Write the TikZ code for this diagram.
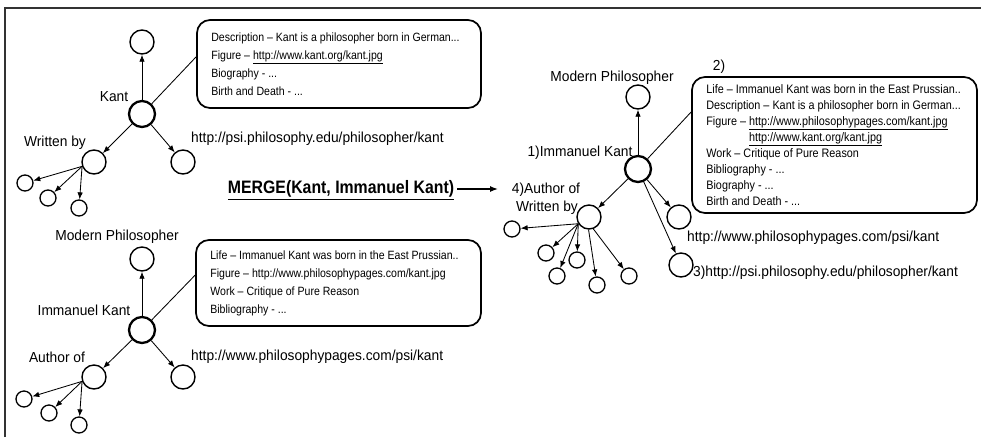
\documentclass[tikz,border=0pt]{standalone}
\usepackage{fontspec}
\setmainfont{Liberation Sans}
\newfontfamily\labelfont[FakeStretch=0.95]{Liberation Sans}
\newfontfamily\narrowfont[FakeStretch=0.88]{Liberation Sans}
\newfontfamily\mergefont[FakeStretch=0.88]{Liberation Sans}
\usetikzlibrary{arrows.meta,calc}
\begin{document}
\begin{tikzpicture}[x=1pt,y=-1pt,
  vtx/.style={circle,draw,line width=1.4pt,minimum size=24pt,inner sep=0pt},
  mainvtx/.style={circle,draw,line width=2.3pt,minimum size=26pt,inner sep=0pt},
  smallvtx/.style={circle,draw,line width=1.3pt,minimum size=16pt,inner sep=0pt},
  lbl/.style={font=\labelfont\fontsize{14.5}{17}\selectfont,inner sep=0pt},
  infobox/.style={draw,line width=1.7pt,rounded corners=13pt,inner sep=0pt},
  infotext/.style={font=\narrowfont\fontsize{12}{18}\selectfont,align=left,inner sep=0pt,anchor=west},
  arr/.style={-{Latex[length=7pt,width=5.5pt]},line width=0.85pt},
  link/.style={line width=0.85pt}]
\useasboundingbox (0,0) rectangle (981,437);
% frame
\coordinate (fa) at (5,437);
\coordinate (fb) at (5,8);
\coordinate (fc) at (981,8);
\draw[line width=1.1pt,black!80] (fa) -- (fb) -- (fc);

% ---------- top-left graph ----------
\node[vtx] (tk) at (142,42) {};
\node[mainvtx] (k) at (142,114) {};
\node[lbl] (kl) at (114,97) {Kant};
\node[vtx] (wb) at (94,162) {};
\node[vtx] (ku) at (183,162) {};
\node[lbl] (wbl) at (55,143) {Written by};
\node[lbl,anchor=west] (kul) at (191,139) {http://psi.philosophy.edu/philosopher/kant};
\node[smallvtx] (ks1) at (25,183) {};
\node[smallvtx] (ks2) at (48,198) {};
\node[smallvtx] (ks3) at (79,208) {};
\node[infobox,minimum width=284pt,minimum height=88pt] (kb) at (339,64) {};
\node[infotext] (kt) at ($(kb.west)+(15,0)$) {Description – Kant is a philosopher born in German...\\Figure – \underline{http://www.kant.org/kant.jpg}\\Biography - ...\\Birth and Death - ...};
\draw[arr] (k) -- (tk);
\draw[arr] (k) -- (wb);
\draw[arr] (k) -- (ku);
\draw[link] (k) -- ($(kb.north west)!0.42!(kb.south west)$);
\coordinate (wbo) at (wb.200);
\draw[arr] (wbo) -- (ks1);
\draw[arr] (wbo) -- (ks2);
\draw[arr] (wbo) -- (ks3);

% ---------- MERGE ----------
\node[font=\mergefont\bfseries\fontsize{18}{20}\selectfont,inner sep=0pt] (mg) at (341,190) {\underline{MERGE(Kant, Immanuel Kant)}};
\coordinate (mgend) at (498,189);
\draw[-{Latex[length=8pt,width=6pt]},line width=1.3pt] ([xshift=3pt,yshift=1pt]mg.east) -- (mgend);

% ---------- bottom-left graph ----------
\node[lbl] (mpl) at (117,237) {Modern Philosopher};
\node[vtx] (it) at (142,259) {};
\node[mainvtx] (i) at (142,330) {};
\node[lbl] (il) at (84,310) {Immanuel Kant};
\node[vtx] (ia) at (94,377) {};
\node[vtx] (iu) at (183,377) {};
\node[lbl] (ial) at (57,357) {Author of};
\node[lbl,anchor=west] (iul) at (191,357) {http://www.philosophypages.com/psi/kant};
\node[smallvtx] (is1) at (24,399) {};
\node[smallvtx] (is2) at (49,413) {};
\node[smallvtx] (is3) at (79,425) {};
\node[infobox,minimum width=285pt,minimum height=86pt] (ib) at (338.5,283) {};
\node[infotext] (itx) at ($(ib.west)+(15,0)$) {Life – Immanuel Kant was born in the East Prussian..\\Figure – http://www.philosophypages.com/kant.jpg\\Work – Critique of Pure Reason\\Bibliography - ...};
\draw[arr] (i) -- (it);
\draw[arr] (i) -- (ia);
\draw[arr] (i) -- (iu);
\draw[link] (i) -- ($(ib.north west)!0.41!(ib.south west)$);
\coordinate (iao) at (ia.200);
\draw[arr] (iao) -- (is1);
\draw[arr] (iao) -- (is2);
\draw[arr] (iao) -- (is3);

% ---------- right graph ----------
\node[lbl] (rmpl) at (612,78) {Modern Philosopher};
\node[lbl] (r2) at (719,67) {2)};
\node[vtx] (rt) at (638,97) {};
\node[mainvtx] (r) at (638,169) {};
\node[lbl] (rl) at (580,153) {1)Immanuel Kant};
\node[lbl] (ral) at (546,190) {4)Author of};
\node[lbl] (rwl) at (547,208) {Written by};
\node[vtx] (ra) at (589,217) {};
\node[vtx] (ru1) at (679,217) {};
\node[vtx] (ru2) at (681,265) {};
\node[lbl,anchor=west] (ru1l) at (687,238) {http://www.philosophypages.com/psi/kant};
\node[lbl,anchor=west] (ru2l) at (693,273) {3)http://psi.philosophy.edu/philosopher/kant};
\node[smallvtx] (rs1) at (512,229) {};
\node[smallvtx] (rs2) at (546,253) {};
\node[smallvtx] (rs3) at (577,260) {};
\node[smallvtx] (rs4) at (557,276) {};
\node[smallvtx] (rs5) at (597,285) {};
\node[smallvtx] (rs6) at (629,276) {};
\node[infobox,minimum width=285pt,minimum height=136pt] (rb) at (834.5,145) {};
\node[infotext,font=\narrowfont\fontsize{12.3}{16}\selectfont] (rtx) at ($(rb.west)+(15,0)$) {Life – Immanuel Kant was born in the East Prussian..\\Description – Kant is a philosopher born in German...\\Figure – \underline{http://www.philosophypages.com/kant.jpg}\\\phantom{Figure – }\underline{http://www.kant.org/kant.jpg}\\Work – Critique of Pure Reason\\Bibliography - ...\\Biography - ...\\Birth and Death - ...};
\draw[arr] (r) -- (rt);
\draw[arr] (r) -- (ra);
\draw[arr] (r) -- (ru1);
\draw[arr] (r) -- (ru2);
\draw[link] (r) -- ($(rb.north west)!0.26!(rb.south west)$);
\coordinate (rao) at (ra.212);
\coordinate (rab) at (ra.268);
\coordinate (rac) at (ra.290);
\draw[arr] (rao) -- (rs1);
\draw[arr] (rao) -- (rs2);
\draw[arr] (rao) -- (rs3);
\draw[arr] (rao) -- (rs4);
\draw[arr] (rab) -- (rs5);
\draw[arr] (rac) -- (rs6);
\end{tikzpicture}
\end{document}
